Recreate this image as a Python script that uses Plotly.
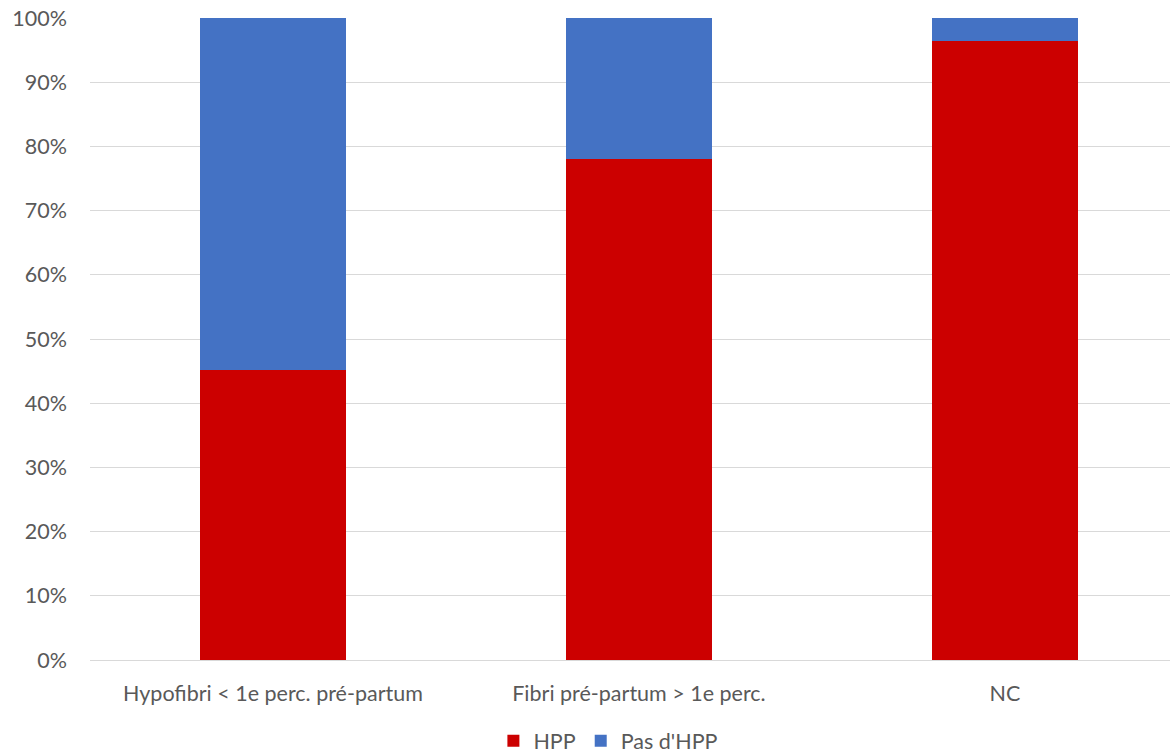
import plotly.graph_objects as go

categories = ["Hypofibri < 1e perc. pré-partum", "Fibri pré-partum > 1e perc.", "NC"]
hpp = [45.2, 78.1, 96.4]
pas_hpp = [100 - v for v in hpp]
y_ticks = [0, 10, 20, 30, 40, 50, 60, 70, 80, 90, 100]
y_tick_labels = [f"{t}%" for t in y_ticks]

FONT = "Lato, 'Open Sans', sans-serif"
GREY = "#595959"
SIZE = 21.5

fig = go.Figure()
fig.add_trace(go.Bar(
    x=list(range(len(categories))), y=hpp, name="HPP",
    marker=dict(color="#CC0000", line=dict(width=0)), width=0.4,
))
fig.add_trace(go.Bar(
    x=list(range(len(categories))), y=pas_hpp, name="Pas d'HPP",
    marker=dict(color="#4472C4", line=dict(width=0)), width=0.4,
))

fig.update_layout(
    barmode="stack",
    width=1170, height=755,
    margin=dict(l=90.4, r=0, t=18, b=94.5, autoexpand=False),
    paper_bgcolor="white", plot_bgcolor="white",
    font=dict(family=FONT, size=SIZE, color=GREY),
    showlegend=True,
    legend=dict(
        orientation="h", x=0.48, xanchor="center",
        yref="container", y=0.019, yanchor="middle",
        bgcolor="rgba(0,0,0,0)",
        font=dict(family=FONT, size=SIZE, color=GREY),
        tracegroupgap=0, traceorder="normal",
    ),
    bargap=0,
)
fig.update_xaxes(
    tickmode="array", tickvals=list(range(len(categories))), ticktext=categories,
    range=[-0.5, 2.451], showgrid=False, zeroline=False, showline=False,
    ticks="", ticklabelstandoff=18, automargin=False,
    tickfont=dict(family=FONT, size=SIZE, color=GREY),
)
fig.update_yaxes(
    range=[0, 100], tickmode="array", tickvals=y_ticks, ticktext=y_tick_labels,
    showgrid=True, gridcolor="#D9D9D9", gridwidth=1.3,
    zeroline=True, zerolinecolor="#D9D9D9", zerolinewidth=1.3,
    showline=False, ticks="", ticklabelstandoff=22, automargin=False,
    tickfont=dict(family=FONT, size=SIZE, color=GREY),
)

fig.write_html("out.html")
